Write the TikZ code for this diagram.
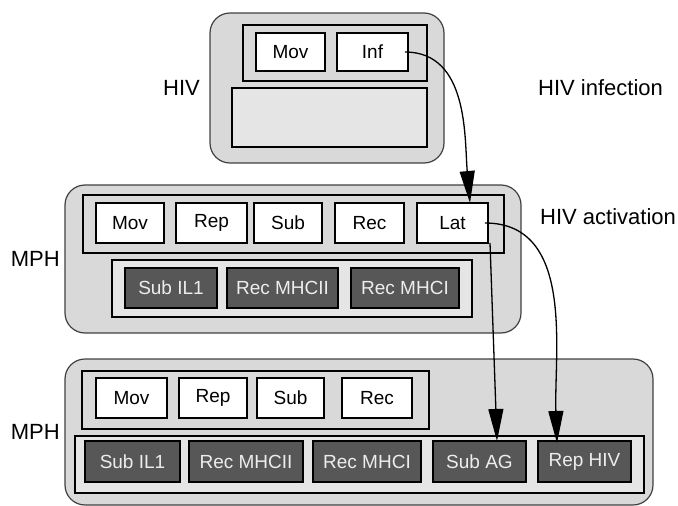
\documentclass[tikz,border=0pt]{standalone}
\usepackage{fontspec}
\setmainfont{Liberation Sans}
\usetikzlibrary{positioning,arrows.meta}

\definecolor{agentgray}{gray}{0.85}
\definecolor{layergray}{gray}{0.9}
\definecolor{cellgray}{gray}{0.34}

\begin{document}
\begin{tikzpicture}[x=1pt,y=1pt,
				agent/.style={draw=black!75,line width=1.2pt,fill=agentgray,rounded corners=20pt,inner sep=0pt,outer sep=0pt},
				layer/.style={draw,line width=1.8pt,fill=agentgray,inner sep=0pt,outer sep=0pt},
				pale/.style={layer,fill=layergray},
				cell/.style={draw,line width=1.8pt,fill=white,inner sep=0pt,outer sep=0pt,minimum height=40pt,font=\fontsize{19}{22}\selectfont},
				darkcell/.style={cell,fill=cellgray,text=white!93!black},
				tag/.style={inner sep=0pt,font=\fontsize{22}{26}\selectfont},
				link/.style={line width=1.3pt,-{Triangle[length=32pt,width=15pt]}}]
				\useasboundingbox (0,0) rectangle (678,-506);
				% HIV agent
				\node (hiv)     [agent,minimum width=234pt,minimum height=150pt] at (327,-88) {};
				\node (hivTop)  [layer,minimum width=184pt,minimum height=56pt] at (335,-53) {};
				\node (hivLow)  [pale,minimum width=195pt,minimum height=59pt] at (329.5,-117.5) {};
				\node (hMov)    [cell,minimum width=69pt,minimum height=38pt] at (290.5,-52) {Mov};
				\node (hInf)    [cell,minimum width=71pt,minimum height=38pt,right=12pt of hMov] {Inf};
				\node (hivTag)  [tag,left=10pt of hiv]   {HIV};
				\node (infTag)  [tag,right=94pt of hiv]  {HIV infection};
				
				% MPH agent, middle
				\node (mph)     [agent,minimum width=456pt,minimum height=148pt] at (293,-259) {};
				\node (mTop)    [layer,minimum width=421pt,minimum height=58pt] at (293.5,-224) {};
				\node (mLow)    [pale,minimum width=360pt,minimum height=57pt] at (292,-288.5) {};
				\node (mMov)    [cell,minimum width=68pt] at (130,-223) {Mov};
				\node (mRep)    [cell,minimum width=71pt,right=12pt of mMov] {Rep};
				\node (mSub)    [cell,minimum width=68pt,right=7pt of mRep]  {Sub};
				\node (mRec)    [cell,minimum width=69pt,right=13pt of mSub] {Rec};
				\node (mLat)    [cell,minimum width=71pt,right=13pt of mRec] {Lat};
				\node (mSubIL)  [darkcell,minimum width=92pt] at (171,-288) {Sub IL1};
				\node (mMHCII)  [darkcell,minimum width=111pt,right=10pt of mSubIL] {Rec MHCII};
				\node (mMHCI)   [darkcell,minimum width=108pt,right=13pt of mMHCII] {Rec MHCI};
				\node (mphTag)  [tag,left=5pt of mph] {MPH};
				\node (actTag)  [tag,anchor=west] at (540,-217) {HIV activation};
				
				% MPH agent, bottom
				\node (mph2)    [agent,minimum width=588pt,minimum height=146pt] at (359,-432) {};
				\node (bTop)    [layer,minimum width=347pt,minimum height=58pt] at (255.5,-400) {};
				\node (bLow)    [pale,minimum width=569pt,minimum height=57pt] at (359.5,-464.5) {};
				\node (bMov)    [cell,minimum width=71pt] at (131.5,-398) {Mov};
				\node (bRep)    [cell,minimum width=68pt,right=12pt of bMov] {Rep};
				\node (bSub)    [cell,minimum width=67pt,right=10pt of bRep] {Sub};
				\node (bRec)    [cell,minimum width=70pt,right=18pt of bSub] {Rec};
				\node (bSubIL)  [darkcell,minimum width=95pt,minimum height=41pt] at (132.5,-461.5) {Sub IL1};
				\node (bMHCII)  [darkcell,minimum width=114pt,minimum height=41pt,right=9pt of bSubIL]  {Rec MHCII};
				\node (bMHCI)   [darkcell,minimum width=108pt,minimum height=41pt,right=10pt of bMHCII] {Rec MHCI};
				\node (bSubAG)  [darkcell,minimum width=93pt,minimum height=41pt,right=12pt of bMHCI]  {Sub AG};
				\node (bRepHIV) [darkcell,minimum width=93pt,minimum height=41pt,right=12pt of bSubAG] {Rep HIV};
				\node (mph2Tag) [tag,left=5pt of mph2] {MPH};
				
				\draw[link] ([xshift=-3pt]hInf.east) to[out=0,in=95] ([xshift=17.5pt]mLat.north);
				\draw[link] ([xshift=2pt]mLat.south east) -- ([xshift=17.5pt]bSubAG.north);
				\draw[link] ([xshift=-3pt]mLat.east) to[out=0,in=92] ([xshift=-27.5pt,yshift=-2pt]bRepHIV.north);
			\end{tikzpicture}
\end{document}
